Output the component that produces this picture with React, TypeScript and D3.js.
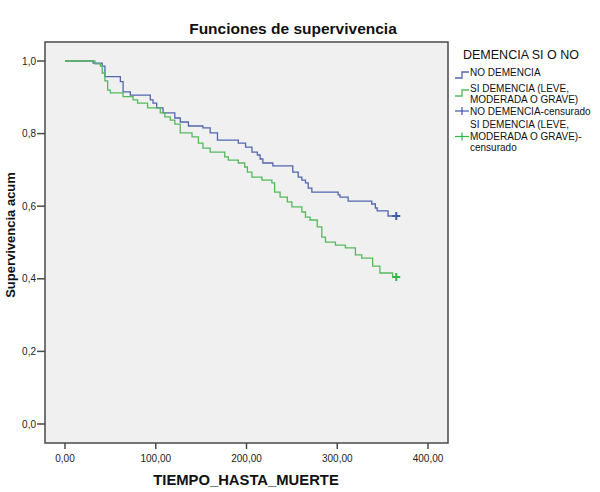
import React from "react";
import * as d3 from "d3";

const title = "Funciones de supervivencia";
const xLabel = "TIEMPO_HASTA_MUERTE";
const yLabel = "Supervivencia acum";
const legendTitle = "DEMENCIA SI O NO";
const xTicks = [0, 100, 200, 300, 400];
const yTicks = [0, 0.2, 0.4, 0.6, 0.8, 1.0];

const noDemTimes = [0, 31, 41, 44, 61, 64, 72, 94, 97, 101, 108, 121, 127, 136, 152, 160, 168, 191, 199, 206, 212, 215, 218, 229, 251, 257, 261, 265, 268, 272, 301, 303, 312, 338, 342, 344, 356, 365];
const noDemSurv = [1.0, 0.994, 0.986, 0.957, 0.943, 0.915, 0.906, 0.893, 0.884, 0.871, 0.857, 0.843, 0.832, 0.821, 0.816, 0.802, 0.782, 0.774, 0.763, 0.749, 0.741, 0.73, 0.719, 0.711, 0.694, 0.68, 0.672, 0.664, 0.65, 0.639, 0.631, 0.625, 0.614, 0.606, 0.595, 0.587, 0.573, 0.573];

const siDemTimes = [0, 33, 39, 41, 44, 47, 50, 64, 75, 80, 91, 105, 110, 116, 121, 127, 140, 147, 152, 160, 176, 180, 191, 198, 201, 206, 217, 228, 231, 237, 245, 250, 261, 265, 270, 278, 283, 287, 298, 309, 320, 327, 339, 347, 361, 365];
const siDemSurv = [1.0, 0.992, 0.986, 0.967, 0.945, 0.92, 0.912, 0.902, 0.893, 0.884, 0.871, 0.857, 0.846, 0.837, 0.826, 0.802, 0.791, 0.774, 0.76, 0.749, 0.736, 0.727, 0.719, 0.708, 0.694, 0.68, 0.672, 0.664, 0.639, 0.625, 0.612, 0.598, 0.584, 0.57, 0.562, 0.543, 0.515, 0.501, 0.493, 0.485, 0.466, 0.457, 0.435, 0.416, 0.405, 0.405];

const series = [
  { name: "NO DEMENCIA", times: noDemTimes, surv: noDemSurv, color: "#5266ae", mark: "#3e58ac" },
  { name: "SI DEMENCIA", times: siDemTimes, surv: siDemSurv, color: "#55b95c", mark: "#2eb848" },
];

const legendItems = [
  { lines: ["NO DEMENCIA"], color: "#5266ae", kind: "step" },
  { lines: ["SI DEMENCIA (LEVE,", "MODERADA O GRAVE)"], color: "#55b95c", kind: "step" },
  { lines: ["NO DEMENCIA-censurado"], color: "#3e58ac", kind: "cross" },
  { lines: ["SI DEMENCIA (LEVE,", "MODERADA O GRAVE)-", "censurado"], color: "#2eb848", kind: "cross" },
];

const FONT = "'Liberation Sans', Arial, sans-serif";

export default function App() {
  const x = d3.scaleLinear().domain([0, 400]).range([65, 428]);
  const y = d3.scaleLinear().domain([0, 1]).range([424, 61]);
  const frame = { l: 45, r: 448, t: 42, b: 443 };
  const line = d3
    .line<[number, number]>()
    .x((d) => x(d[0]))
    .y((d) => y(d[1]))
    .curve(d3.curveStepAfter);
  const fmtY = (v: number) => d3.format(".1f")(v).replace(".", ",");
  const fmtX = (v: number) => d3.format(".2f")(v).replace(".", ",");

  const legendX = 455;
  const layout = [
    { top: 76, sym: 75 },
    { top: 92, sym: 93 },
    { top: 114.5, sym: 111 },
    { top: 128.3, sym: 136.5 },
  ];
  const lineH = 11.2;

  return (
    <div style={{ position: "absolute", left: 0, top: 0 }}>
      <svg width={600} height={492} style={{ display: "block", fontFamily: FONT }}>
        <rect x={0} y={0} width={600} height={492} fill="#ffffff" />
        <rect x={frame.l} y={frame.t} width={frame.r - frame.l} height={frame.b - frame.t} fill="#f0f0f0" stroke="#4a4a4a" strokeWidth={1.5} />
        <text x={293} y={34} textAnchor="middle" fontSize={15.5} fontWeight="bold" fill="#111">{title}</text>

        {yTicks.map((t) => (
          <g key={"y" + t}>
            <line x1={frame.l - 8} x2={frame.l} y1={y(t)} y2={y(t)} stroke="#4a4a4a" strokeWidth={1.5} />
            <text x={frame.l - 9} y={y(t) + 3.5} textAnchor="end" fontSize={10} fill="#222">{fmtY(t)}</text>
          </g>
        ))}
        {xTicks.map((t) => (
          <g key={"x" + t}>
            <line x1={x(t)} x2={x(t)} y1={frame.b} y2={frame.b + 6} stroke="#4a4a4a" strokeWidth={1.5} />
            <text x={x(t)} y={462} textAnchor="middle" fontSize={10} fill="#222">{fmtX(t)}</text>
          </g>
        ))}
        <text x={246} y={485} textAnchor="middle" fontSize={14.8} fontWeight="bold" fill="#111">{xLabel}</text>
        <text transform={`translate(15,235) rotate(-90)`} textAnchor="middle" fontSize={13} fontWeight="bold" fill="#111">{yLabel}</text>

        {series.map((s) => {
          const pts = s.times.map((t, i) => [t, s.surv[i]] as [number, number]);
          const last = pts[pts.length - 1];
          return (
            <g key={s.name}>
              <path d={line(pts) || ""} fill="none" stroke={s.color} strokeWidth={1.3} />
              <line x1={x(last[0]) - 4} x2={x(last[0]) + 4} y1={y(last[1])} y2={y(last[1])} stroke={s.mark} strokeWidth={2} />
              <line x1={x(last[0])} x2={x(last[0])} y1={y(last[1]) - 4} y2={y(last[1]) + 4} stroke={s.mark} strokeWidth={2} />
            </g>
          );
        })}

        <text x={463} y={59} fontSize={12.5} fill="#111">{legendTitle}</text>
        {legendItems.map((r, i) => {
          const L = layout[i];
          return (
            <g key={"leg" + i}>
              {r.kind === "step" ? (
                <path d={`M${legendX},${L.sym + 3}H${legendX + 7}V${L.sym - 3}H${legendX + 14}`} fill="none" stroke={r.color} strokeWidth={1.3} />
              ) : (
                <g>
                  <line x1={legendX} x2={legendX + 14} y1={L.sym} y2={L.sym} stroke={r.color} strokeWidth={1.2} />
                  <line x1={legendX + 7} x2={legendX + 7} y1={L.sym - 4} y2={L.sym + 4} stroke={r.color} strokeWidth={1.2} />
                </g>
              )}
              {r.lines.map((ln, j) => (
                <text key={j} x={470} y={L.top + j * lineH} fontSize={10} fill="#111">{ln}</text>
              ))}
            </g>
          );
        })}
      </svg>
    </div>
  );
}
